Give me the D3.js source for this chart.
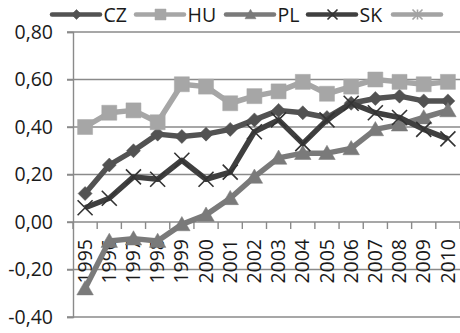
<!DOCTYPE html>
<html>
<head>
<meta charset="utf-8">
<script src="https://cdn.jsdelivr.net/npm/d3@7"></script>
<style>
  html, body { margin: 0; padding: 0; background: #fff; }
  svg { display: block; font-family: "Open Sans", sans-serif; }
</style>
</head>
<body>
<svg id="chart" width="460" height="333"></svg>
<script>
// Years on the category axis
const years = ["1995","1996","1997","1998","1999","2000","2001","2002",
               "2003","2004","2005","2006","2007","2008","2009","2010"];

// One array per country
const cz = [0.12, 0.24, 0.30, 0.37, 0.36, 0.37, 0.39, 0.43, 0.47, 0.46, 0.44, 0.50, 0.52, 0.53, 0.51, 0.51];
const hu = [0.40, 0.46, 0.47, 0.42, 0.58, 0.57, 0.50, 0.53, 0.55, 0.59, 0.54, 0.57, 0.60, 0.59, 0.58, 0.59];
const pl = [-0.28, -0.08, -0.07, -0.08, -0.01, 0.03, 0.10, 0.19, 0.27, 0.29, 0.29, 0.31, 0.39, 0.41, 0.44, 0.47];
const sk = [0.06, 0.10, 0.19, 0.18, 0.26, 0.18, 0.21, 0.38, 0.43, 0.33, 0.43, 0.50, 0.46, 0.44, 0.39, 0.35];
const unnamed = []; // fifth legend entry, no values plotted

const yTicks = [-0.4, -0.2, 0, 0.2, 0.4, 0.6, 0.8];

const series = [
  { name: "CZ", values: cz, color: "#525252", marker: "diamond" },
  { name: "HU", values: hu, color: "#a6a6a6", marker: "square" },
  { name: "PL", values: pl, color: "#7a7a7a", marker: "triangle" },
  { name: "SK", values: sk, color: "#3f3f3f", marker: "times" },
  { name: "",   values: unnamed, color: "#a3a3a3", marker: "asterisk" }
];

const svg = d3.select("#chart");
const plotLeft = 73, plotRight = 460, plotTop = 32, plotBottom = 317;

const x = d3.scaleBand().domain(years).range([plotLeft, plotRight]).padding(0);
const y = d3.scaleLinear().domain([-0.4, 0.8]).range([plotBottom, plotTop]);
const fmt = v => d3.format(".2f")(v).replace(".", ",").replace("−", "-");

const gridColor = "#8a8a8a";

// Horizontal gridlines
svg.append("g").selectAll("line").data(yTicks).join("line")
  .attr("x1", plotLeft - 6).attr("x2", plotRight)
  .attr("y1", d => y(d)).attr("y2", d => y(d))
  .attr("stroke", gridColor).attr("stroke-width", 1.4);

// Value axis
const yAxis = svg.append("g").attr("transform", `translate(${plotLeft},0)`)
  .call(d3.axisLeft(y).tickValues(yTicks).tickFormat(fmt).tickSize(6).tickPadding(14));
yAxis.select(".domain").attr("stroke", gridColor).attr("stroke-width", 1.4);
yAxis.selectAll(".tick line").attr("stroke", gridColor).attr("stroke-width", 1.4);
yAxis.selectAll("text").attr("font-size", 19.5).attr("fill", "#1a1a1a")
  .attr("font-family", "'Open Sans', sans-serif");

// Category axis crossing at zero
const xAxis = svg.append("g").attr("transform", `translate(0,${y(0)})`)
  .call(d3.axisBottom(x).tickSize(0).tickPadding(0));
xAxis.select(".domain").remove();
xAxis.append("g").selectAll("line").data(d3.range(years.length + 1)).join("line")
  .attr("x1", i => plotLeft + i * x.step()).attr("x2", i => plotLeft + i * x.step())
  .attr("y1", 0).attr("y2", 7)
  .attr("stroke", gridColor).attr("stroke-width", 1.4);
xAxis.selectAll(".tick text")
  .attr("font-size", 19.5).attr("fill", "#1a1a1a")
  .attr("font-family", "'Open Sans', sans-serif")
  .attr("transform", "translate(0,17) rotate(-90)")
  .attr("text-anchor", "end").attr("dx", 0).attr("dy", "0.34em").attr("y", 0).attr("x", 0);

// Marker shapes
function markerPath(kind, s) {
  const h = s / 2;
  switch (kind) {
    case "diamond": return `M0,${-h}L${h},0L0,${h}L${-h},0Z`;
    case "square": return `M${-h},${-h}H${h}V${h}H${-h}Z`;
    case "triangle": return `M0,${-h * 1.05}L${h * 1.1},${h * 0.85}L${-h * 1.1},${h * 0.85}Z`;
    case "times": return `M${-h},${-h}L${h},${h}M${h},${-h}L${-h},${h}`;
    case "asterisk": return `M${-h},${-h}L${h},${h}M${h},${-h}L${-h},${h}M0,${-h}V${h}`;
  }
}
function drawMarker(g, kind, color, size) {
  const stroked = kind === "times" || kind === "asterisk";
  g.append("path").attr("d", markerPath(kind, size))
    .attr("fill", stroked ? "none" : color)
    .attr("stroke", color)
    .attr("stroke-width", stroked ? 1.6 : 0.5);
}

// Series lines and markers
const line = d3.line().x((d, i) => x(years[i]) + x.bandwidth() / 2).y(d => y(d));
series.filter(s => s.values.length).forEach(s => {
  const g = svg.append("g");
  g.append("path").datum(s.values).attr("d", line)
    .attr("fill", "none").attr("stroke", s.color).attr("stroke-width", 5.5)
    .attr("stroke-linejoin", "round");
  const size = { diamond: 14, square: 15, triangle: 15, times: 15 }[s.marker];
  s.values.forEach((v, i) => {
    const m = g.append("g")
      .attr("transform", `translate(${x(years[i]) + x.bandwidth() / 2},${y(v)})`);
    drawMarker(m, s.marker, s.marker === "times" ? "#333" : s.color, size);
  });
});

// Legend
const legendX = [52, 136, 226, 308, 393];
const legend = svg.append("g");
series.forEach((s, i) => {
  const g = legend.append("g").attr("transform", `translate(${legendX[i]},14.5)`);
  g.append("line").attr("x1", 0).attr("x2", 48).attr("y1", 0).attr("y2", 0)
    .attr("stroke", s.color).attr("stroke-width", 4.5).attr("stroke-linecap", "round");
  const m = g.append("g").attr("transform", "translate(24.5,0)");
  drawMarker(m, s.marker, s.marker === "times" ? "#333" : s.color,
             s.marker === "square" ? 11 : 10);
  if (s.name) {
    g.append("text").attr("x", 51.5).attr("y", 0).attr("dy", "0.36em")
      .attr("font-size", 19.5).attr("fill", "#1a1a1a").text(s.name);
  }
});
</script>
</body>
</html>
